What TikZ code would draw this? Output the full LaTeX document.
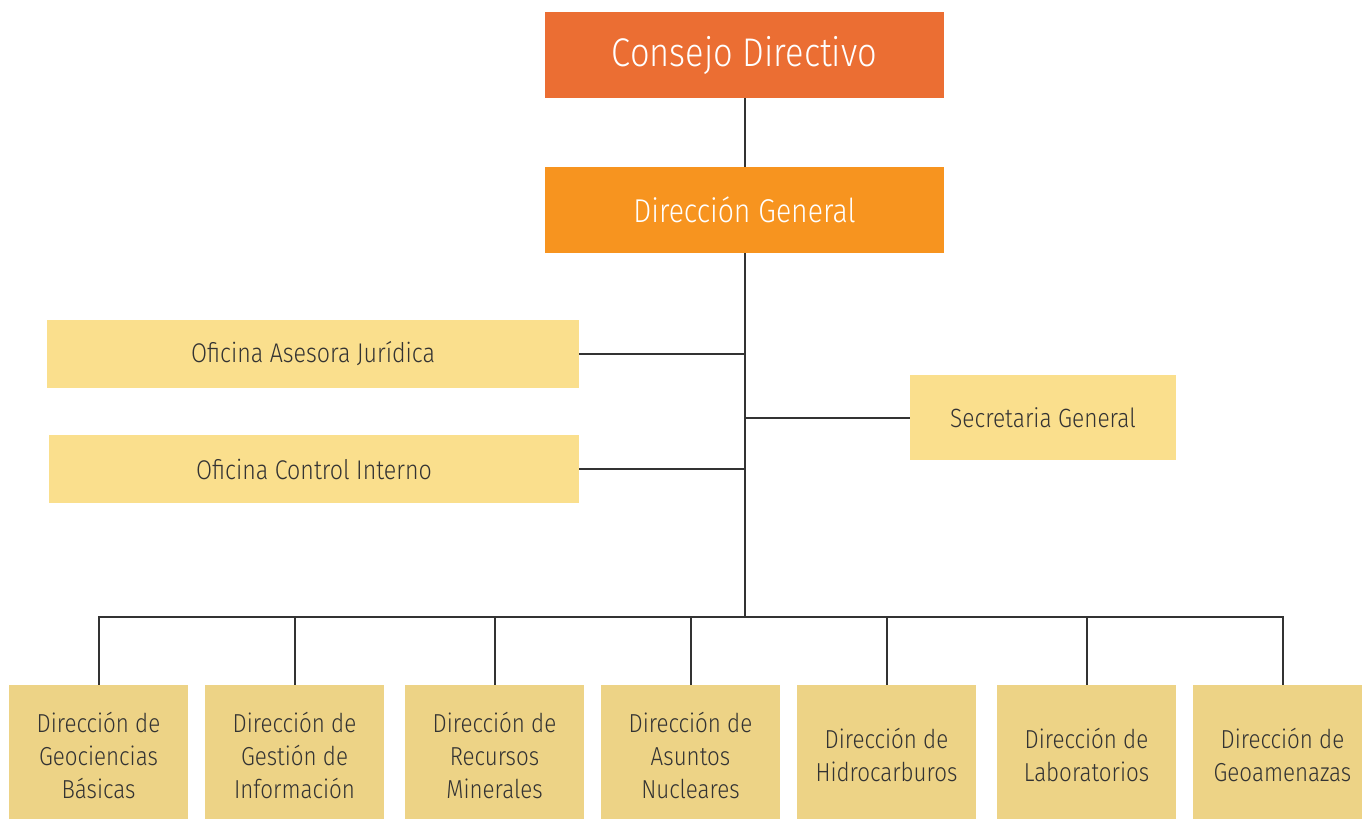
\documentclass[tikz,border=0pt]{standalone}
\usepackage{fontspec}
\setmainfont{Fira Sans Light}[FakeStretch=0.86]
\usepackage{tikz}
\usetikzlibrary{positioning}
\definecolor{consejoc}{HTML}{EB6E33}
\definecolor{generalc}{HTML}{F7941F}
\definecolor{oficinac}{HTML}{FADF8D}
\definecolor{direcc}{HTML}{EDD386}
\definecolor{linec}{HTML}{333333}
\tikzstyle{box} = [rectangle, inner sep=0pt, align=center]
\tikzstyle{top} = [box, text=white, minimum width=199.5pt, minimum height=43pt]
\tikzstyle{oficina} = [box, fill=oficinac, text=linec, minimum height=34pt, font=\fontsize{13.5}{16}\selectfont]
\tikzstyle{direccion} = [box, fill=direcc, text=linec, minimum width=89.5pt, minimum height=70pt, font=\fontsize{13}{16.5}\selectfont]
\tikzstyle{line} = [draw=linec, line width=1pt]

\begin{document}
\begin{tikzpicture}[x=0.5pt,y=-0.5pt]
  \useasboundingbox (0,0) rectangle (1362,819);

  % top of the chart
  \node[top, fill=consejoc, font=\fontsize{20}{24}\selectfont] (consejo) at (744.5,55) {\raisebox{-2pt}{Consejo Directivo}};
  \node[top, fill=generalc, font=\fontsize{16.5}{20}\selectfont] (general) at (744.5,210) {\raisebox{-1pt}{Dirección General}};

  % offices
  \node[oficina, minimum width=266pt] (juridica) at (313,354) {Oficina Asesora Jurídica};
  \node[oficina, minimum width=265pt] (control) at (314,469) {Oficina Control Interno};
  \node[oficina, minimum width=133pt, minimum height=42.5pt, font=\fontsize{13.2}{16}\selectfont] (secretaria) at (1043,417.5) {Secretaria General};

  % directions
  \foreach \i/\x/\txt in {1/98.5/{Dirección de\\Geociencias\\Básicas},
                          2/294.5/{Dirección de\\Gestión de\\Información},
                          3/494.5/{Dirección de\\Recursos\\Minerales},
                          4/690.5/{Dirección de\\Asuntos\\Nucleares},
                          5/886.5/{Dirección de\\Hidrocarburos},
                          6/1086.5/{Dirección de\\Laboratorios},
                          7/1282.5/{Dirección de\\Geoamenazas}}
    \node[direccion] (d\i) at (\x,755) {\txt};

  %lines
  \coordinate (bus) at (744.5,617);
  \draw[line] (consejo) -- (general);
  \draw[line] (general) -- (bus);
  \draw[line] (juridica.east) -- (juridica.east -| general.south);
  \draw[line] (control.east) -- (control.east -| general.south);
  \draw[line] (secretaria.west) -- (secretaria.west -| general.south);
  \draw[line] (d1.north) |- (bus) -| (d7.north);
  \foreach \i in {2,...,6}
    \draw[line] (d\i.north) -- (d\i.north |- bus);
\end{tikzpicture}
\end{document}
